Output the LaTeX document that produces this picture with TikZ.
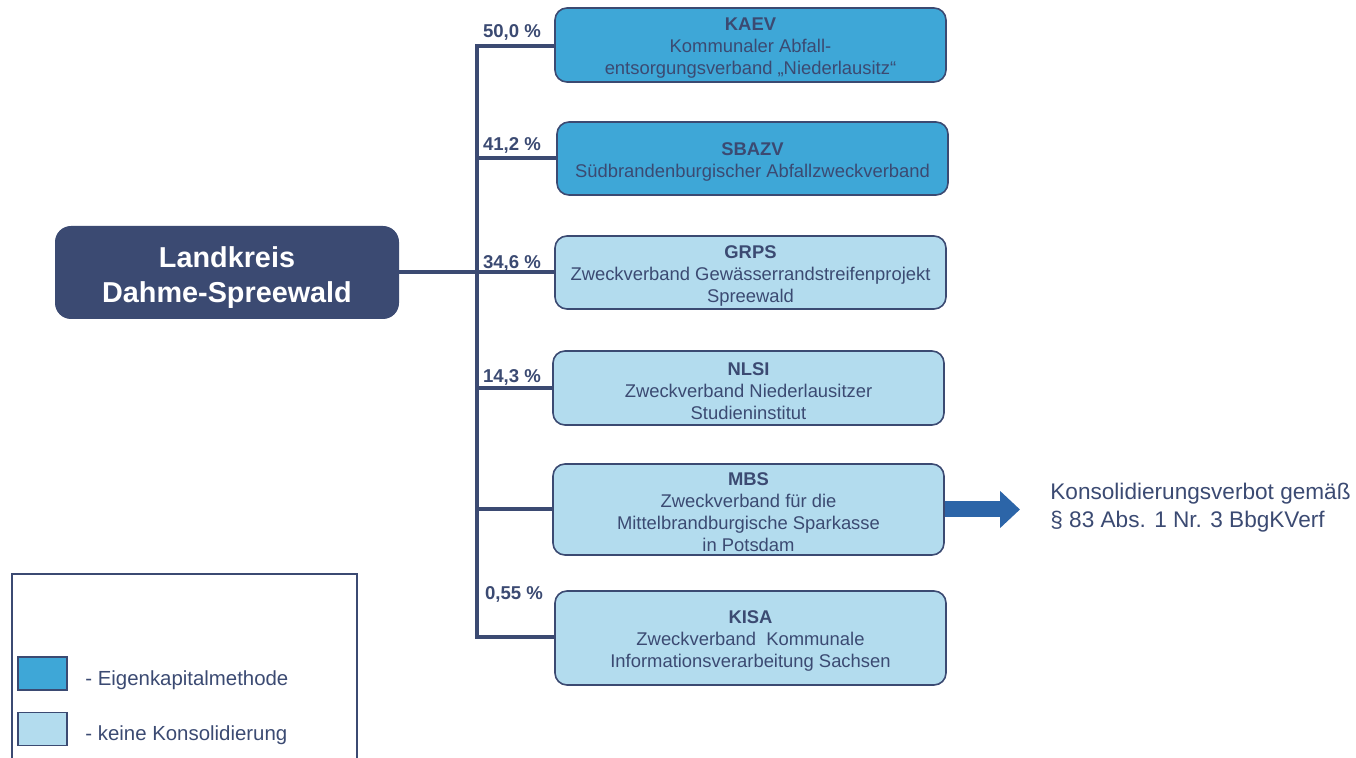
\documentclass[tikz,border=0pt]{standalone}
\usepackage{fontspec}
\setmainfont{Liberation Sans}
\usepackage{xcolor}
\usetikzlibrary{arrows.meta}

\definecolor{navy}{HTML}{3B4A72}
\definecolor{midblue}{HTML}{3EA7D7}
\definecolor{lightblue}{HTML}{B3DCEE}
\definecolor{arrowblue}{HTML}{2C65A8}

\newcommand{\unithead}[1]{\rule{0pt}{9.5pt}\textbf{#1}}

\begin{document}
\begin{tikzpicture}[x=0.5pt,y=-0.5pt,
  unit/.style={draw=navy,line width=0.8pt,rounded corners=6pt,align=center,text=navy,
    minimum width=195.5pt,inner xsep=2pt,inner ysep=0pt,font=\fontsize{9.2}{11}\selectfont},
  eigen/.style={unit,fill=midblue},
  keine/.style={unit,fill=lightblue},
  share/.style={text=navy,font=\fontsize{9.3}{11}\selectfont\bfseries},
  link/.style={draw=navy,line width=2pt}]
\useasboundingbox (0,0) rectangle (1356,758);

\node[fill=navy,rounded corners=8pt,minimum width=172pt,minimum height=46.5pt,align=center,text=white,
  font=\fontsize{14.4}{17.5}\selectfont\bfseries] (lds) at (227,272.5) {\rule{0pt}{15.5pt}Landkreis\\Dahme-Spreewald};

\node[eigen,minimum height=37pt] (kaev) at (750.5,45) {\unithead{KAEV}\\Kommunaler Abfall-\\entsorgungsverband „Niederlausitz“};
\node[eigen,minimum height=36.5pt] (sbazv) at (752.5,158.5) {\unithead{SBAZV}\\Südbrandenburgischer Abfallzweckverband};
\node[keine,minimum height=36.5pt] (grps) at (750.5,272.5) {\unithead{GRPS}\\Zweckverband Gewässerrandstreifenprojekt\\Spreewald};
\node[keine,minimum height=37pt] (nlsi) at (748.5,388) {\unithead{NLSI}\\Zweckverband Niederlausitzer\\Studieninstitut};
\node[keine,minimum height=45.5pt] (mbs) at (748.5,509.5) {\unithead{MBS}\\Zweckverband für die\\Mittelbrandburgische Sparkasse\\in Potsdam};
\node[keine,minimum height=47pt] (kisa) at (750.5,638) {\unithead{KISA}\\Zweckverband\ \ Kommunale\\Informationsverarbeitung Sachsen};

% Beteiligungslinien
\coordinate (jtop) at (477,46);
\coordinate (jbot) at (477,637);
\draw[link] (kaev.west |- jtop) -- (jtop) -- (jbot) -- (kisa.west |- jbot);
\draw[link] (lds.east) -- (lds.east -| jtop);
\draw[link] (sbazv.west) -- (sbazv.west -| jtop);
\draw[link] (grps.west) -- (grps.west -| jtop);
\draw[link] (nlsi.west) -- (nlsi.west -| jtop);
\draw[link] (mbs.west) -- (mbs.west -| jtop);

\node[share] (p1) at (512,32) {50,0 \%};
\node[share] (p2) at (512,145) {41,2 \%};
\node[share] (p3) at (512,263) {34,6 \%};
\node[share] (p4) at (512,377) {14,3 \%};
\node[share] (p6) at (514,594) {0,55 \%};

% Verbot
\node[anchor=west,inner sep=0pt,align=left,text=navy,font=\fontsize{11.3}{14}\selectfont] (verbot) at (1050,508)
  {Konsolidierungsverbot gemäß\\§ 83 Abs. 1 Nr. 3 BbgKVerf};
\draw[arrowblue,line width=8pt,shorten >=15pt,-{Triangle[length=10pt,width=18pt]}] (mbs.east) -- (mbs.east -| verbot.west);

% Legende
\draw[navy,line width=0.8pt] (12,760) -- (12,574) -- (357,574) -- (357,760);
\node[draw=navy,line width=0.8pt,fill=midblue,minimum width=24.5pt,minimum height=16.5pt,inner sep=0pt] (lg1) at (42.5,673.5) {};
\node[draw=navy,line width=0.8pt,fill=lightblue,minimum width=24.5pt,minimum height=16.5pt,inner sep=0pt] (lg2) at (42.5,729) {};
\node[anchor=west,inner sep=0pt,text=navy,font=\fontsize{10.2}{12}\selectfont] (lt1) at (85,680) {- Eigenkapitalmethode};
\node[anchor=west,inner sep=0pt,text=navy,font=\fontsize{10.2}{12}\selectfont] (lt2) at (85,735) {- keine Konsolidierung};
\end{tikzpicture}
\end{document}
